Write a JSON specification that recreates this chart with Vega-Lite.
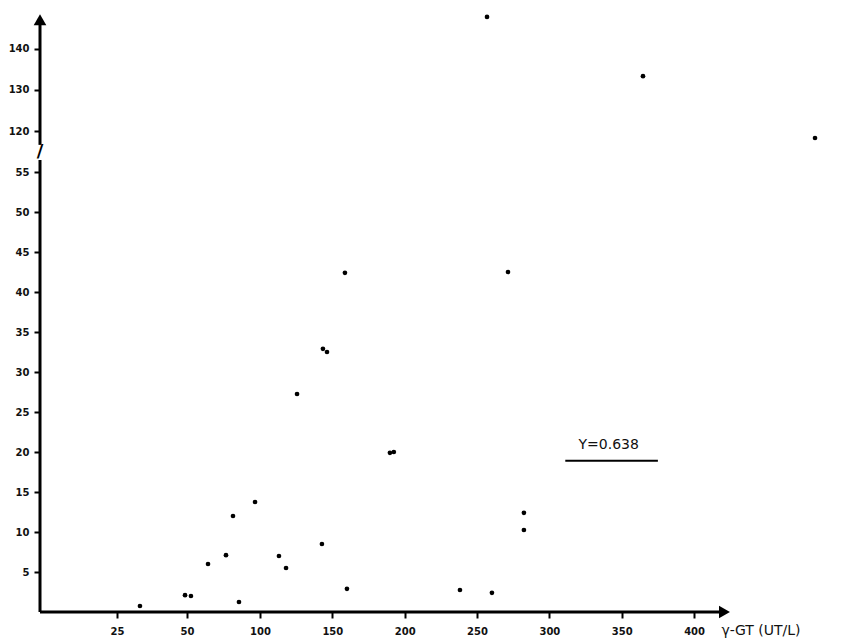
{
  "$schema": "https://vega.github.io/schema/vega-lite/v6.json",
  "autosize": "none",
  "width": 685,
  "height": 602,
  "padding": {"left": 40, "top": 10, "right": 132, "bottom": 32},
  "background": "white",
  "config": {"view": {"stroke": null}},
  "datasets": {
    "pts": [
      {"ggt": 33.2, "val": 0.75},
      {"ggt": 49.3, "val": 2.1},
      {"ggt": 52.7, "val": 2.0},
      {"ggt": 64.4, "val": 6.0},
      {"ggt": 76.7, "val": 7.1},
      {"ggt": 81.5, "val": 12.0},
      {"ggt": 85.6, "val": 1.25},
      {"ggt": 96.6, "val": 13.75},
      {"ggt": 113.1, "val": 7.0},
      {"ggt": 118.0, "val": 5.5},
      {"ggt": 125.6, "val": 27.25},
      {"ggt": 143.5, "val": 32.9},
      {"ggt": 146.3, "val": 32.5},
      {"ggt": 142.8, "val": 8.5},
      {"ggt": 158.7, "val": 42.4},
      {"ggt": 160.1, "val": 2.9},
      {"ggt": 189.8, "val": 19.9},
      {"ggt": 192.5, "val": 20.0},
      {"ggt": 238.2, "val": 2.75},
      {"ggt": 260.3, "val": 2.4},
      {"ggt": 282.4, "val": 12.4},
      {"ggt": 282.4, "val": 10.25},
      {"ggt": 271.4, "val": 42.5},
      {"ggt": 364.7, "val": 133.3},
      {"ggt": 256.9, "val": 147.7},
      {"ggt": 483.6, "val": 108.9}
    ],
    "one": [{}]
  },
  "layer": [
    {
      "data": {"name": "pts"},
      "mark": {"type": "circle", "color": "black", "opacity": 1, "size": 22},
      "encoding": {
        "x": {
          "field": "ggt", "type": "quantitative",
          "scale": {"domain": [0, 25, 50, 100, 420], "range": [0, 77, 147, 220, 683], "nice": false, "zero": false},
          "axis": {
            "values": [25, 50, 100, 150, 200, 250, 300, 350, 400],
            "title": null, "domain": false, "grid": false,
            "tickColor": "black", "tickWidth": 2, "tickSize": 6,
            "labelFont": "DejaVu Sans", "labelFontWeight": "bold", "labelFontSize": 10,
            "labelColor": "#111", "labelPadding": 8
          }
        },
        "y": {
          "field": "val", "type": "quantitative",
          "scale": {"domain": [0, 55, 120, 145], "range": [602, 162, 121, 18], "nice": false, "zero": false},
          "axis": {
            "values": [5, 10, 15, 20, 25, 30, 35, 40, 45, 50, 55, 120, 130, 140],
            "title": null, "domain": false, "grid": false,
            "tickColor": "black", "tickWidth": 2, "tickSize": 6,
            "labelFont": "DejaVu Sans", "labelFontWeight": "bold", "labelFontSize": 10,
            "labelColor": "#111", "labelPadding": 5
          }
        }
      }
    },
    {
      "data": {"name": "one"},
      "mark": {"type": "rule", "color": "black", "strokeWidth": 3},
      "encoding": {"x": {"datum": 0}, "x2": {"datum": 418}, "y": {"datum": 0}}
    },
    {
      "data": {"name": "one"},
      "mark": {"type": "rule", "color": "black", "strokeWidth": 3},
      "encoding": {"x": {"datum": 0}, "y": {"datum": 0}, "y2": {"datum": 74}}
    },
    {
      "data": {"name": "one"},
      "mark": {"type": "rule", "color": "black", "strokeWidth": 3},
      "encoding": {"x": {"datum": 0}, "y": {"datum": 98}, "y2": {"datum": 146}}
    },
    {
      "data": {"name": "one"},
      "mark": {"type": "text", "text": "/", "fontSize": 18, "fontWeight": "bold", "font": "DejaVu Sans", "color": "black", "align": "center", "baseline": "middle"},
      "encoding": {"x": {"datum": 0}, "y": {"datum": 86}}
    },
    {
      "data": {"name": "one"},
      "mark": {"type": "point", "shape": "triangle-right", "filled": true, "color": "black", "opacity": 1, "size": 160},
      "encoding": {"x": {"datum": 421}, "y": {"datum": 0}}
    },
    {
      "data": {"name": "one"},
      "mark": {"type": "point", "shape": "triangle-up", "filled": true, "color": "black", "opacity": 1, "size": 160},
      "encoding": {"x": {"datum": 0}, "y": {"datum": 147}}
    },
    {
      "data": {"name": "one"},
      "mark": {"type": "text", "text": "γ-GT  (UT/L)", "fontSize": 14, "font": "DejaVu Sans", "color": "#111", "align": "left", "baseline": "middle"},
      "encoding": {"x": {"datum": 419}, "y": {"datum": -2.4}}
    },
    {
      "data": {"name": "one"},
      "mark": {"type": "text", "text": "Y=0.638", "fontSize": 14, "font": "DejaVu Sans", "color": "#111", "align": "center", "baseline": "middle"},
      "encoding": {"x": {"datum": 341}, "y": {"datum": 20.9}}
    },
    {
      "data": {"name": "one"},
      "mark": {"type": "rule", "color": "black", "strokeWidth": 2},
      "encoding": {"x": {"datum": 311}, "x2": {"datum": 375}, "y": {"datum": 18.9}}
    }
  ]
}
